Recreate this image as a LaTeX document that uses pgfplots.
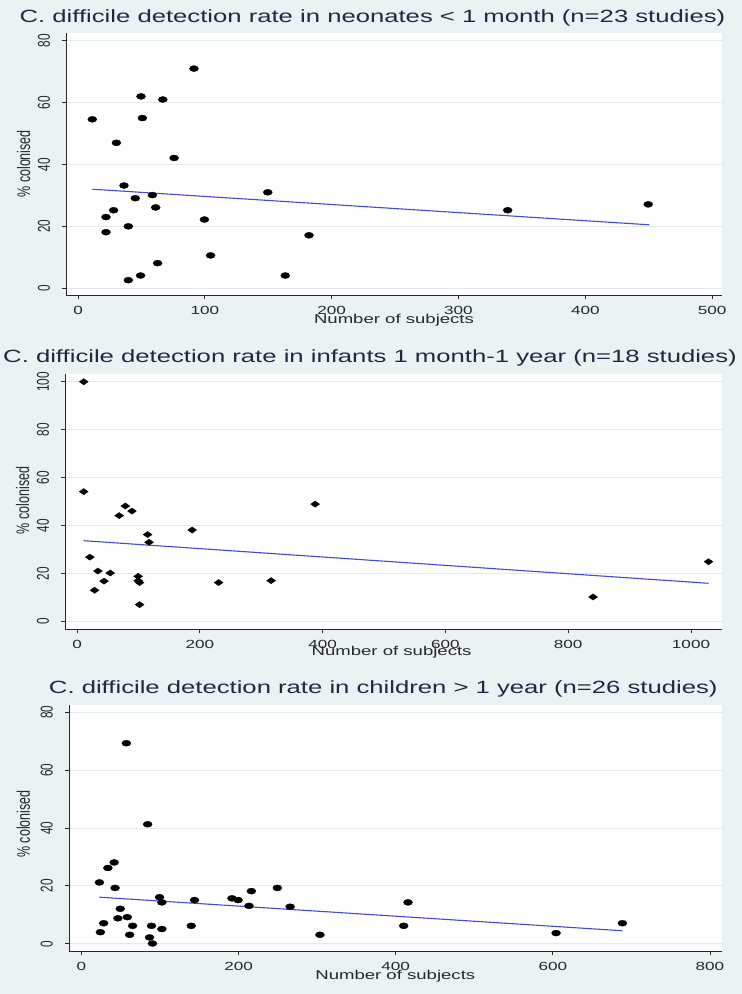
\documentclass[border=0pt]{standalone}
\usepackage{fontspec}
\setmainfont{Liberation Sans}
\newfontfamily\sfx{Liberation Sans}[FakeStretch=1.45]
\usepackage{graphicx}
\usepackage{pgfplots}
\pgfplotsset{compat=1.18}
\definecolor{bg}{RGB}{234,242,243}
\definecolor{gridc}{RGB}{226,234,237}
\definecolor{ttl}{RGB}{30,42,66}
\definecolor{fitc}{RGB}{70,70,230}
\definecolor{axc}{RGB}{40,40,40}

\pgfplotsset{stata/.style={
  scale only axis,
  anchor=south west,
  axis lines=left,
  axis line style={-, axc, line width=0.9pt},
  axis background/.style={fill=white},
  ymajorgrids,
  grid style={gridc, line width=1pt},
  tick align=outside,
  major tick length=4pt,
  tick style={axc, line width=0.8pt},
  /pgf/number format/assume math mode=true,
  /pgf/number format/1000 sep={},
  xticklabel style={font=\sfx\fontsize{11.8}{12}\selectfont, text=axc, anchor=base, yshift=-15pt},
  yticklabel={\scalebox{1}[1.45]{\pgfmathprintnumber{\tick}}},
  yticklabel style={font=\fontsize{11.8}{12}\selectfont, text=axc, rotate=90, anchor=base, yshift=12.5pt},
}}
\tikzset{
  dotm/.style={only marks, mark=*, mark size=3pt, mark options={xscale=1.5, fill=black, draw=black}},
  diam/.style={only marks, mark=diamond*, mark size=3.1pt, mark options={xscale=1.9, fill=black, draw=black}},
  fitl/.style={no marks, fitc, line width=1.1pt},
  ttlnode/.style={anchor=base, inner sep=0pt, text=ttl, font=\sfx\fontsize{17.7}{20}\selectfont},
  xlnode/.style={anchor=base, inner sep=0pt, text=axc, font=\sfx\fontsize{12.8}{14}\selectfont},
  ylnode/.style={anchor=center, inner sep=0pt, text=axc, font=\fontsize{12.5}{14}\selectfont},
}

\begin{document}
\begin{tikzpicture}
\path[use as bounding box, fill=bg] (0pt,0pt) rectangle (742pt,-994pt);

% Panel 1
\begin{axis}[stata, at={(66.3pt,-295pt)}, width=655.4pt, height=262pt,
  xmin=-9.3, xmax=507.6, ymin=-2.2, ymax=82.5,
  xtick={0,100,200,300,400,500}, ytick={0,20,40,60,80}]
\addplot[dotm] coordinates {
(11.2,54.6) (30.2,47.0) (36.2,33.2) (22.0,23.0) (28.0,25.2) (22.0,18.1)
(39.6,20.0) (45.1,29.1) (39.6,2.6) (49.3,4.1) (49.6,62.0) (50.7,55.0)
(58.6,30.1) (61.2,26.1) (62.7,8.1) (66.8,61.0) (75.7,42.1) (91.4,71.0)
(99.6,22.2) (104.5,10.6) (149.6,31.0) (163.4,4.1) (182.1,17.1)
(338.8,25.2) (449.6,27.1)};
\addplot[fitl] coordinates {(11.2,32.0) (450.4,20.5)};
\end{axis}

% Panel 2
\begin{axis}[stata, at={(65.3pt,-629pt)}, width=656.4pt, height=254.7pt,
  xmin=-19.2, xmax=1050, ymin=-3.05, ymax=103.1,
  xtick={0,200,400,600,800,1000}, ytick={0,20,40,60,80,100}]
\addplot[diam] coordinates {
(10.8,100) (10.8,54.2) (20.8,26.9) (28.5,13.1) (33.9,21.1) (43.9,16.9)
(54.0,20.3) (68.6,44.2) (78.6,48.2) (89.4,46.1) (99.5,18.9) (99.5,17.1)
(101.8,16.3) (101.8,7.1) (114.9,36.3) (117.2,33.1) (187.4,38.2)
(230.5,16.3) (316.1,17.1) (387.8,49.0) (840.4,10.3) (1028.5,25.0)};
\addplot[fitl] coordinates {(10.8,33.75) (1028.5,16.0)};
\end{axis}

% Panel 3
\begin{axis}[stata, at={(69.1pt,-951pt)}, width=652.6pt, height=246pt,
  xmin=-15.7, xmax=815, ymin=-2.5, ymax=82.5,
  xtick={0,200,400,600,800}, ytick={0,20,40,60,80}]
\addplot[dotm] coordinates {
(22.9,21.2) (24.1,4.0) (28.3,7.1) (33.7,26.2) (41.6,28.1) (42.8,19.3)
(46.4,8.8) (49.4,12.1) (57.2,69.3) (58.4,9.2) (61.4,3.1) (65.1,6.2)
(84.3,41.3) (86.7,2.2) (89.2,6.2) (90.4,0.1) (99.4,16.1) (102.4,14.3)
(102.4,5.1) (139.8,6.2) (144.0,15.1) (191.6,15.7) (199.4,15.1)
(213.3,13.1) (216.3,18.2) (249.4,19.3) (265.7,12.8) (303.6,3.1)
(410.2,6.2) (415.7,14.3) (604.2,3.7) (688.6,7.1)};
\addplot[fitl] coordinates {(22.9,16.1) (688.6,4.5)};
\end{axis}

% Titles
\node[ttlnode] at (372.5pt,-22pt) {C. difficile detection rate in neonates < 1 month (n=23 studies)};
\node[ttlnode] at (370pt,-362.3pt) {C. difficile detection rate in infants 1 month-1 year (n=18 studies)};
\node[ttlnode] at (383.3pt,-693.3pt) {C. difficile detection rate in children > 1 year (n=26 studies)};

% x labels
\node[xlnode] at (394pt,-323.5pt) {Number of subjects};
\node[xlnode] at (391.6pt,-655.7pt) {Number of subjects};
\node[xlnode] at (395.3pt,-979pt) {Number of subjects};

% y labels
\node[ylnode] at (23.7pt,-163.8pt) {\rotatebox{90}{\scalebox{1}[1.45]{\% colonised}}};
\node[ylnode] at (22.7pt,-500.5pt) {\rotatebox{90}{\scalebox{1}[1.45]{\% colonised}}};
\node[ylnode] at (23.5pt,-824pt) {\rotatebox{90}{\scalebox{1}[1.45]{\% colonised}}};
\end{tikzpicture}
\end{document}
